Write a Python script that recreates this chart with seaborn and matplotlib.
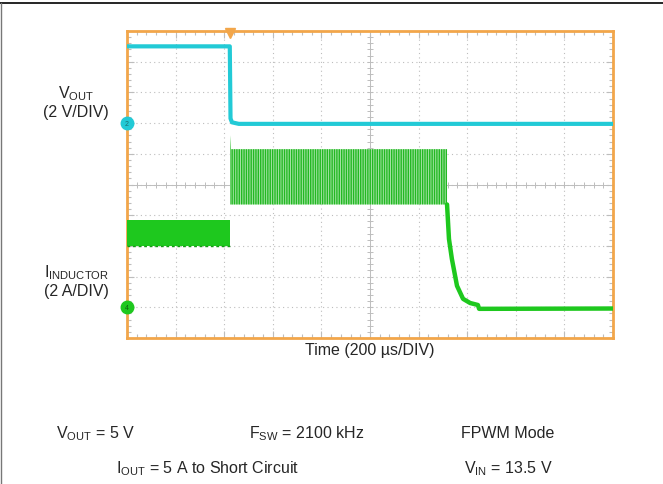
import numpy as np
import pandas as pd
import matplotlib
matplotlib.use("Agg")
import matplotlib.pyplot as plt
import seaborn as sns
from matplotlib.lines import Line2D

# ================= DATA (read off the scope capture) =================
# time axis : 200 us/DIV, 10 DIV
# CH2 cyan : V_OUT, 2 V/DIV, ground marker at 7 DIV
vout_time = [0, 423, 426, 432, 460, 2000]
vout_volts = [5.0, 5.0, 0.3, 0.05, -0.05, -0.05]

# CH4 green : I_INDUCTOR, 2 A/DIV, ground marker at 1 DIV
# ripple envelope before the short
il_pre_time = [0, 424]
il_pre_low = [4.0, 4.0]
il_pre_high = [5.7, 5.7]
# hiccup burst during the short
il_burst_time = [424, 428, 1317]
il_burst_low = [6.7, 6.7, 6.7]
il_burst_high = [11.2, 10.3, 10.3]
# decay once the burst stops
il_tail_time = [1317, 1325, 1337, 1358, 1383, 1412, 1444, 1449, 2000]
il_tail_amps = [6.7, 4.45, 3.15, 1.4, 0.55, 0.28, 0.15, -0.1, -0.08]

trigger_time = 424

# ================= STYLE =================
sns.set_style("white")
plt.rcParams["font.family"] = ["Liberation Sans", "DejaVu Sans"]
plt.rcParams["mathtext.fontset"] = "custom"
plt.rcParams["mathtext.rm"] = "Liberation Sans"
plt.rcParams["mathtext.it"] = "Liberation Sans:italic"
plt.rcParams["hatch.linewidth"] = 1.0

CYAN = "#22cad6"
GREEN = "#1ec81e"
ORANGE = "#f2a64a"
GRIDC = "#bdbdbd"

W, H = 663, 485
fig = plt.figure(figsize=(W / 100, H / 100), dpi=100)
ax = fig.add_axes([127 / W, 1 - 339 / H, 486 / W, 307 / H])


def px(x, y):
    return x / W, 1 - y / H


# scale the channels to screen divisions
vout_df = pd.DataFrame({"t": vout_time, "div": 7 + np.array(vout_volts) / 2})
tail_df = pd.DataFrame({"t": il_tail_time, "div": 1 + np.array(il_tail_amps) / 2})

# ================= GRATICULE =================
ax.set_xlim(0, 2000)
ax.set_ylim(0, 10)
ax.set_xticks(np.arange(0, 2001, 200))
ax.set_yticks(np.arange(0, 11, 1))
ax.set_xticks(np.arange(0, 2001, 40), minor=True)
ax.set_yticks(np.arange(0, 10.01, 0.2), minor=True)
ax.set_xticklabels([])
ax.set_yticklabels([])
ax.tick_params(which="both", direction="in", top=True, right=True,
               bottom=True, left=True, color=GRIDC, width=0.8)
ax.tick_params(which="major", length=5)
ax.tick_params(which="minor", length=3)
ax.grid(True, which="major", color=GRIDC, linestyle=(0, (1, 3)), linewidth=0.8)
for s in ax.spines.values():
    s.set_color(ORANGE)
    s.set_linewidth(2)

ax.axhline(5, color=GRIDC, linewidth=0.7, zorder=1)
ax.axvline(1000, color=GRIDC, linewidth=0.7, zorder=1)
ax.plot(np.arange(0, 2001, 40), np.full(51, 5.0), "|", color=GRIDC,
        markersize=5, markeredgewidth=0.7, zorder=1)
ax.plot(np.full(51, 1000.0), np.arange(0, 10.01, 0.2), "_", color=GRIDC,
        markersize=5, markeredgewidth=0.7, zorder=1)

# ================= TRACES =================
ax.fill_between(il_pre_time, 1 + np.array(il_pre_low) / 2,
                1 + np.array(il_pre_high) / 2, color=GREEN, linewidth=0, zorder=3)
ax.plot(il_pre_time, 1 + np.array(il_pre_low) / 2, color="#139a13",
        linewidth=1, linestyle=(0, (2, 2)), zorder=3)
ax.fill_between(il_burst_time, 1 + np.array(il_burst_low) / 2,
                1 + np.array(il_burst_high) / 2, facecolor="#a6e4a6",
                edgecolor="#22b822", hatch="|||||||", linewidth=0, zorder=3)
sns.lineplot(data=tail_df, x="t", y="div", ax=ax, color=GREEN, linewidth=3.2,
             estimator=None, sort=False, zorder=4)
sns.lineplot(data=vout_df, x="t", y="div", ax=ax, color=CYAN, linewidth=3,
             estimator=None, sort=False, zorder=5)
ax.set_xlabel("")
ax.set_ylabel("")

# channel ground markers and trigger mark
ax.plot([0], [7], "o", color=CYAN, markersize=9, clip_on=False, zorder=6)
ax.text(0, 7, "2", fontsize=5, ha="center", va="center", color="#1a6d70",
        clip_on=False, zorder=7)
ax.plot([0], [1], "o", color=GREEN, markersize=9, clip_on=False, zorder=6)
ax.text(0, 1, "4", fontsize=5, ha="center", va="center", color="#0d600d",
        clip_on=False, zorder=7)
ax.plot([trigger_time], [9.93], "v", color=ORANGE, markersize=7,
        clip_on=False, zorder=7)

# ================= LABELS =================
fs = 11.5
fig.text(*px(76, 94), r"V$_{\rm OUT}$", fontsize=fs, ha="center", va="center")
fig.text(*px(76, 113), "(2 V/DIV)", fontsize=fs, ha="center", va="center")
fig.text(*px(77, 273), r"I$_{\rm INDUCTOR}$", fontsize=fs, ha="center", va="center")
fig.text(*px(76, 292), "(2 A/DIV)", fontsize=fs, ha="center", va="center")
fig.text(*px(370, 351), "Time (200 \u00b5s/DIV)", fontsize=fs,
         ha="center", va="center")

fig.text(*px(96, 434), r"V$_{\rm OUT}$ = 5 V", fontsize=fs, ha="center", va="center")
fig.text(*px(307, 434), r"F$_{\rm SW}$ = 2100 kHz", fontsize=fs, ha="center", va="center")
fig.text(*px(508, 434), "FPWM Mode", fontsize=fs, ha="center", va="center")
fig.text(*px(208, 469), r"I$_{\rm OUT}$ = 5 A to Short Circuit", fontsize=fs,
         ha="center", va="center")
fig.text(*px(508, 469), r"V$_{\rm IN}$ = 13.5 V", fontsize=fs, ha="center", va="center")

# page frame
fig.add_artist(Line2D([0, 1], [1 - 4 / H] * 2, color="black", linewidth=1.2))
fig.add_artist(Line2D([1.2 / W] * 2, [0, 1 - 4 / H], color="#777777", linewidth=1))

fig.savefig("out.png", dpi=100)
